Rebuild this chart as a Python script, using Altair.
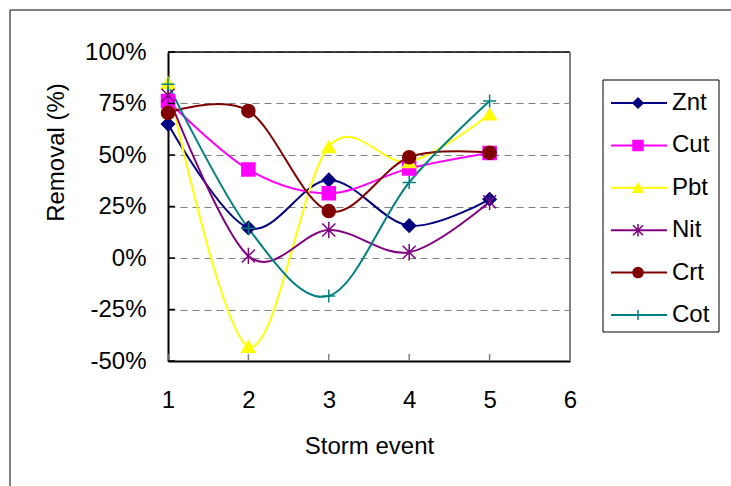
import altair as alt
import pandas as pd

# ---- data ----
events = [1, 2, 3, 4, 5]
series = ["Znt", "Cut", "Pbt", "Nit", "Crt", "Cot"]
znt = [0.650, 0.146, 0.379, 0.157, 0.285]
cut = [0.762, 0.430, 0.314, 0.435, 0.510]
pbt = [0.850, -0.430, 0.540, 0.467, 0.698]
nit = [0.790, 0.010, 0.136, 0.028, 0.273]
crt = [0.705, 0.714, 0.228, 0.489, 0.511]
cot = [0.843, 0.144, -0.184, 0.367, 0.762]
x_ticks = [1, 2, 3, 4, 5, 6]
y_ticks = [-0.5, -0.25, 0.0, 0.25, 0.5, 0.75, 1.0]

colors = ["#000080", "#FF00FF", "#FFFF00", "#800080", "#800000", "#008080"]
ASTER = "M-1,-1L1,1M-1,1L1,-1M0,-1.25L0,1.25"
PLUS = "M-1,0L1,0M0,-1L0,1"
shapes = ["diamond", "square", "triangle-up", ASTER, "circle", PLUS]

rows = []
for name, vals in zip(series, [znt, cut, pbt, nit, crt, cot]):
    for e, v in zip(events, vals):
        rows.append({"series": name, "event": e, "removal": v})
df = pd.DataFrame(rows)
leg_df = pd.DataFrame({"series": series})
xt_df = pd.DataFrame({"event": x_ticks})
yt_df = pd.DataFrame({"removal": y_ticks})
one = pd.DataFrame({"a": [0]})

FONT = "Liberation Sans"
W, H = 402, 309

color = alt.Color("series:N", scale=alt.Scale(domain=series, range=colors), legend=None)
stroke = alt.Stroke("series:N", scale=alt.Scale(domain=series, range=colors), legend=None)
shape = alt.Shape("series:N", scale=alt.Scale(domain=series, range=shapes), legend=None)
xs = alt.Scale(domain=[1, 6], nice=False, zero=False)
ys = alt.Scale(domain=[-0.5, 1.0], nice=False, zero=False)

x_axis = alt.Axis(values=x_ticks, format="d", grid=False, ticks=False, tickSize=0,
                  labelPadding=27, labelFontSize=24, labelColor="black", labelFont=FONT,
                  labelFlush=False, labelOverlap=False,
                  title="Storm event", titleFontSize=24, titleFontWeight="normal",
                  titleColor="black", titleFont=FONT, titleY=92, titleBaseline="alphabetic",
                  domainColor="black", domainWidth=2)
y_axis = alt.Axis(values=y_ticks, orient="left",
                  labelExpr="round(datum.value*100) + '%'",
                  grid=True, gridDash=[7, 5], gridColor="#808080", gridWidth=1,
                  ticks=False, tickSize=0, labelPadding=22, labelFontSize=24,
                  labelColor="black", labelFont=FONT, labelOverlap=False,
                  title="Removal (%)", titleFontSize=24, titleFontWeight="normal",
                  titleColor="black", titleFont=FONT, titleAngle=270,
                  titleX=-112, titleY=100, titleAlign="center", titleBaseline="middle",
                  domainColor="black", domainWidth=2)

X = alt.X("event:Q", scale=xs, axis=x_axis)
Y = alt.Y("removal:Q", scale=ys, axis=y_axis)

frame = alt.Chart(one).mark_rect(filled=False, stroke="black", strokeWidth=1).encode(
    x=alt.value(-158), x2=alt.value(W + 170), y=alt.value(-42), y2=alt.value(H + 140))

top_border = alt.Chart(one).mark_rule(color="black", strokeWidth=1.5).encode(
    x=alt.value(0), x2=alt.value(W), y=alt.value(0))
right_border = alt.Chart(one).mark_rule(color="#808080", strokeWidth=2).encode(
    x=alt.value(W), y=alt.value(0), y2=alt.value(H))

xticks = alt.Chart(xt_df).mark_rule(color="#808080", strokeWidth=1.5).encode(
    x=alt.X("event:Q", scale=xs), y=alt.value(H), y2=alt.value(H - 7))
yticks = alt.Chart(yt_df).mark_rule(color="black", strokeWidth=1.5).encode(
    y=alt.Y("removal:Q", scale=ys), x=alt.value(0), x2=alt.value(7))

lines = alt.Chart(df).mark_line(interpolate="cardinal", strokeWidth=2).encode(
    x=X, y=Y, color=color)
points = alt.Chart(df).mark_point(filled=True, size=170, strokeWidth=1.5, opacity=1).encode(
    x=alt.X("event:Q", scale=xs), y=alt.Y("removal:Q", scale=ys),
    color=color, stroke=stroke, shape=shape)

main = alt.layer(lines, points, xticks, yticks, top_border, right_border, frame)

# ---- legend drawn as its own layer ----
ly = alt.Y("series:N",
           scale=alt.Scale(domain=series, range=[29.8, 284.2], paddingInner=0, paddingOuter=0),
           axis=None)
leg_box = alt.Chart(one).mark_rect(fill="white", stroke="black", strokeWidth=1).encode(
    x=alt.value(435), x2=alt.value(551), y=alt.value(28), y2=alt.value(280))
leg_rule = alt.Chart(leg_df).mark_rule(strokeWidth=2).encode(
    x=alt.value(443), x2=alt.value(499), y=ly, color=color)
leg_pt = alt.Chart(leg_df).mark_point(filled=True, size=100, strokeWidth=1.5, opacity=1).encode(
    x=alt.value(470), y=ly, color=color, stroke=stroke, shape=shape)
leg_txt = alt.Chart(leg_df).mark_text(align="left", baseline="middle", fontSize=24,
                                      font=FONT, color="black").encode(
    x=alt.value(504), y=ly, text="series:N")
legend = alt.layer(leg_box, leg_rule, leg_pt, leg_txt)

chart = alt.layer(main, legend).resolve_scale(y="independent").properties(
    width=W, height=H,
    autosize=alt.AutoSizeParams(type="none"),
    padding={"left": 168, "top": 52, "right": 161, "bottom": 125},
).configure(font=FONT).configure_view(stroke=None)

chart.save("out.html", embed_options={"renderer": "svg", "actions": False})
